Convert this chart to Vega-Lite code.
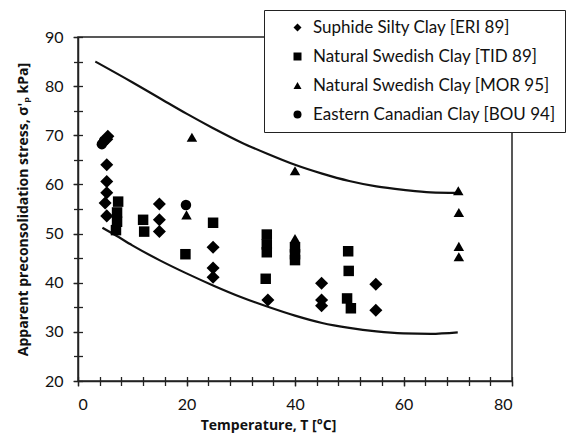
{
  "$schema": "https://vega.github.io/schema/vega-lite/v6.json",
  "autosize": "none",
  "width": 434,
  "height": 344,
  "padding": {"left": 78, "top": 37, "right": 64, "bottom": 60},
  "background": "white",
  "config": {
    "view": {"stroke": "#222", "strokeWidth": 1.5},
    "font": "Lato",
    "axis": {
      "domainColor": "#222", "domainWidth": 1.5, "tickColor": "#222", "tickWidth": 1.3,
      "labelColor": "#111", "labelFont": "Lato", "labelFontSize": 16,
      "titleColor": "#111", "titleFont": "Open Sans", "titleFontSize": 14, "titleFontWeight": "bold",
      "grid": false
    }
  },
  "resolve": {"axis": {"x": "independent", "y": "independent"}},
  "datasets": {
    "pts": [
      {"series": "Suphide Silty Clay [ERI 89]", "T": 5.5, "s": 69.8},
      {"series": "Suphide Silty Clay [ERI 89]", "T": 5.3, "s": 69.2},
      {"series": "Suphide Silty Clay [ERI 89]", "T": 5.3, "s": 64.0},
      {"series": "Suphide Silty Clay [ERI 89]", "T": 5.3, "s": 60.6},
      {"series": "Suphide Silty Clay [ERI 89]", "T": 5.3, "s": 58.3},
      {"series": "Suphide Silty Clay [ERI 89]", "T": 5.0, "s": 56.2},
      {"series": "Suphide Silty Clay [ERI 89]", "T": 5.3, "s": 53.6},
      {"series": "Suphide Silty Clay [ERI 89]", "T": 15.0, "s": 56.0},
      {"series": "Suphide Silty Clay [ERI 89]", "T": 15.0, "s": 52.8},
      {"series": "Suphide Silty Clay [ERI 89]", "T": 15.0, "s": 50.4},
      {"series": "Suphide Silty Clay [ERI 89]", "T": 24.9, "s": 47.2},
      {"series": "Suphide Silty Clay [ERI 89]", "T": 24.9, "s": 43.0},
      {"series": "Suphide Silty Clay [ERI 89]", "T": 24.9, "s": 41.1},
      {"series": "Suphide Silty Clay [ERI 89]", "T": 35.0, "s": 36.5},
      {"series": "Suphide Silty Clay [ERI 89]", "T": 44.9, "s": 39.9},
      {"series": "Suphide Silty Clay [ERI 89]", "T": 44.9, "s": 36.5},
      {"series": "Suphide Silty Clay [ERI 89]", "T": 44.9, "s": 35.3},
      {"series": "Suphide Silty Clay [ERI 89]", "T": 54.9, "s": 39.7},
      {"series": "Suphide Silty Clay [ERI 89]", "T": 54.9, "s": 34.4},
      {"series": "Natural Swedish Clay [TID 89]", "T": 7.4, "s": 56.5},
      {"series": "Natural Swedish Clay [TID 89]", "T": 7.2, "s": 54.3},
      {"series": "Natural Swedish Clay [TID 89]", "T": 7.2, "s": 52.4},
      {"series": "Natural Swedish Clay [TID 89]", "T": 7.0, "s": 50.7},
      {"series": "Natural Swedish Clay [TID 89]", "T": 12.0, "s": 52.8},
      {"series": "Natural Swedish Clay [TID 89]", "T": 12.2, "s": 50.4},
      {"series": "Natural Swedish Clay [TID 89]", "T": 19.8, "s": 45.8},
      {"series": "Natural Swedish Clay [TID 89]", "T": 24.9, "s": 52.2},
      {"series": "Natural Swedish Clay [TID 89]", "T": 34.8, "s": 49.8},
      {"series": "Natural Swedish Clay [TID 89]", "T": 34.8, "s": 47.8},
      {"series": "Natural Swedish Clay [TID 89]", "T": 34.8, "s": 46.2},
      {"series": "Natural Swedish Clay [TID 89]", "T": 34.6, "s": 40.8},
      {"series": "Natural Swedish Clay [TID 89]", "T": 40.0, "s": 47.2},
      {"series": "Natural Swedish Clay [TID 89]", "T": 40.0, "s": 45.8},
      {"series": "Natural Swedish Clay [TID 89]", "T": 40.0, "s": 44.6},
      {"series": "Natural Swedish Clay [TID 89]", "T": 49.8, "s": 46.4},
      {"series": "Natural Swedish Clay [TID 89]", "T": 49.9, "s": 42.4},
      {"series": "Natural Swedish Clay [TID 89]", "T": 49.6, "s": 36.8},
      {"series": "Natural Swedish Clay [TID 89]", "T": 50.3, "s": 34.8},
      {"series": "Natural Swedish Clay [MOR 95]", "T": 20.0, "s": 53.8},
      {"series": "Natural Swedish Clay [MOR 95]", "T": 21.0, "s": 69.6},
      {"series": "Natural Swedish Clay [MOR 95]", "T": 40.0, "s": 62.8},
      {"series": "Natural Swedish Clay [MOR 95]", "T": 40.0, "s": 49.0},
      {"series": "Natural Swedish Clay [MOR 95]", "T": 70.1, "s": 58.7},
      {"series": "Natural Swedish Clay [MOR 95]", "T": 70.2, "s": 54.3},
      {"series": "Natural Swedish Clay [MOR 95]", "T": 70.2, "s": 47.4},
      {"series": "Natural Swedish Clay [MOR 95]", "T": 70.2, "s": 45.3},
      {"series": "Eastern Canadian Clay [BOU 94]", "T": 4.4, "s": 68.2},
      {"series": "Eastern Canadian Clay [BOU 94]", "T": 4.8, "s": 68.9},
      {"series": "Eastern Canadian Clay [BOU 94]", "T": 19.9, "s": 55.8}
    ],
    "bounds": [
      {"curve": "upper", "T": 3.2, "s": 85.0},
      {"curve": "upper", "T": 10, "s": 80.8},
      {"curve": "upper", "T": 15, "s": 77.6},
      {"curve": "upper", "T": 20, "s": 74.4},
      {"curve": "upper", "T": 25, "s": 71.4},
      {"curve": "upper", "T": 30, "s": 68.6},
      {"curve": "upper", "T": 35, "s": 66.2},
      {"curve": "upper", "T": 40, "s": 64.0},
      {"curve": "upper", "T": 45, "s": 62.2},
      {"curve": "upper", "T": 50, "s": 60.7},
      {"curve": "upper", "T": 55, "s": 59.6},
      {"curve": "upper", "T": 60, "s": 58.9},
      {"curve": "upper", "T": 65, "s": 58.4},
      {"curve": "upper", "T": 70, "s": 58.3},
      {"curve": "lower", "T": 4.5, "s": 51.2},
      {"curve": "lower", "T": 7, "s": 49.6},
      {"curve": "lower", "T": 10, "s": 47.6},
      {"curve": "lower", "T": 15, "s": 44.6},
      {"curve": "lower", "T": 20, "s": 41.9},
      {"curve": "lower", "T": 25, "s": 39.4},
      {"curve": "lower", "T": 30, "s": 37.1},
      {"curve": "lower", "T": 35, "s": 35.1},
      {"curve": "lower", "T": 40, "s": 33.3},
      {"curve": "lower", "T": 45, "s": 31.8},
      {"curve": "lower", "T": 50, "s": 30.8},
      {"curve": "lower", "T": 55, "s": 30.1},
      {"curve": "lower", "T": 60, "s": 29.7},
      {"curve": "lower", "T": 65, "s": 29.6},
      {"curve": "lower", "T": 70, "s": 29.9}
    ]
  },
  "layer": [
    {
      "data": {"name": "bounds"},
      "mark": {"type": "line", "color": "#111", "strokeWidth": 2.2, "interpolate": "monotone"},
      "encoding": {
        "x": {
          "field": "T", "type": "quantitative",
          "scale": {"domain": [0, 80], "nice": false, "zero": false},
          "axis": {
            "orient": "bottom", "title": null, "labels": false, "domain": false,
            "values": [0, 4, 8, 12, 16, 20, 24, 28, 32, 36, 40, 44, 48, 52, 56, 60, 64, 68, 72, 76, 80],
            "tickSize": 9, "offset": -4.5
          }
        },
        "y": {
          "field": "s", "type": "quantitative",
          "scale": {"domain": [20, 90], "nice": false, "zero": false},
          "axis": {
            "orient": "left", "title": null, "labels": false, "domain": false,
            "values": [20, 25, 30, 35, 40, 45, 50, 55, 60, 65, 70, 75, 80, 85, 90],
            "tickSize": 9, "offset": -4.5
          }
        },
        "detail": {"field": "curve"}
      }
    },
    {
      "data": {"name": "pts"},
      "transform": [{"filter": "datum.series === 'Suphide Silty Clay [ERI 89]'"}],
      "mark": {"type": "point", "filled": true, "opacity": 1, "color": "#000", "size": 170},
      "encoding": {
        "x": {"field": "T", "type": "quantitative", "axis": null},
        "y": {"field": "s", "type": "quantitative", "axis": null},
        "shape": {"field": "series", "type": "nominal"}
      }
    },
    {
      "data": {"name": "pts"},
      "transform": [{"filter": "datum.series !== 'Suphide Silty Clay [ERI 89]'"}],
      "mark": {"type": "point", "filled": true, "opacity": 1, "color": "#000", "size": 110},
      "encoding": {
        "x": {
          "field": "T", "type": "quantitative",
          "axis": {
            "orient": "bottom",
            "title": "Temperature, T [°C]",
            "values": [0, 20, 40, 60, 80],
            "labelOverlap": false,
            "tickSize": 5, "labelPadding": 10, "titlePadding": 6, "titleX": 190
          }
        },
        "y": {
          "field": "s", "type": "quantitative",
          "axis": {
            "orient": "left",
            "title": "Apparent preconsolidation stress, σ'ₚ kPa]",
            "values": [20, 30, 40, 50, 60, 70, 80, 90],
            "labelOverlap": false,
            "tickSize": 5, "labelPadding": 10, "titlePadding": 14
          }
        },
        "shape": {
          "field": "series", "type": "nominal",
          "scale": {
            "domain": ["Suphide Silty Clay [ERI 89]", "Natural Swedish Clay [TID 89]", "Natural Swedish Clay [MOR 95]", "Eastern Canadian Clay [BOU 94]"],
            "range": ["diamond", "square", "triangle-up", "circle"]
          },
          "legend": {
            "title": null,
            "orient": "none",
            "legendX": 186,
            "legendY": -27,
            "fillColor": "white",
            "strokeColor": "#222",
            "padding": 9,
            "symbolOffset": 16,
            "symbolSize": 64,
            "symbolFillColor": "#000",
            "symbolStrokeColor": "#000",
            "labelFont": "Lato",
            "labelFontSize": 17,
            "labelColor": "#111",
            "labelOffset": 7,
            "labelLimit": 400,
            "rowPadding": 11,
            "encode": {
              "legend": {"update": {"strokeWidth": {"value": 1.5}}}
            }
          }
        }
      }
    }
  ]
}
